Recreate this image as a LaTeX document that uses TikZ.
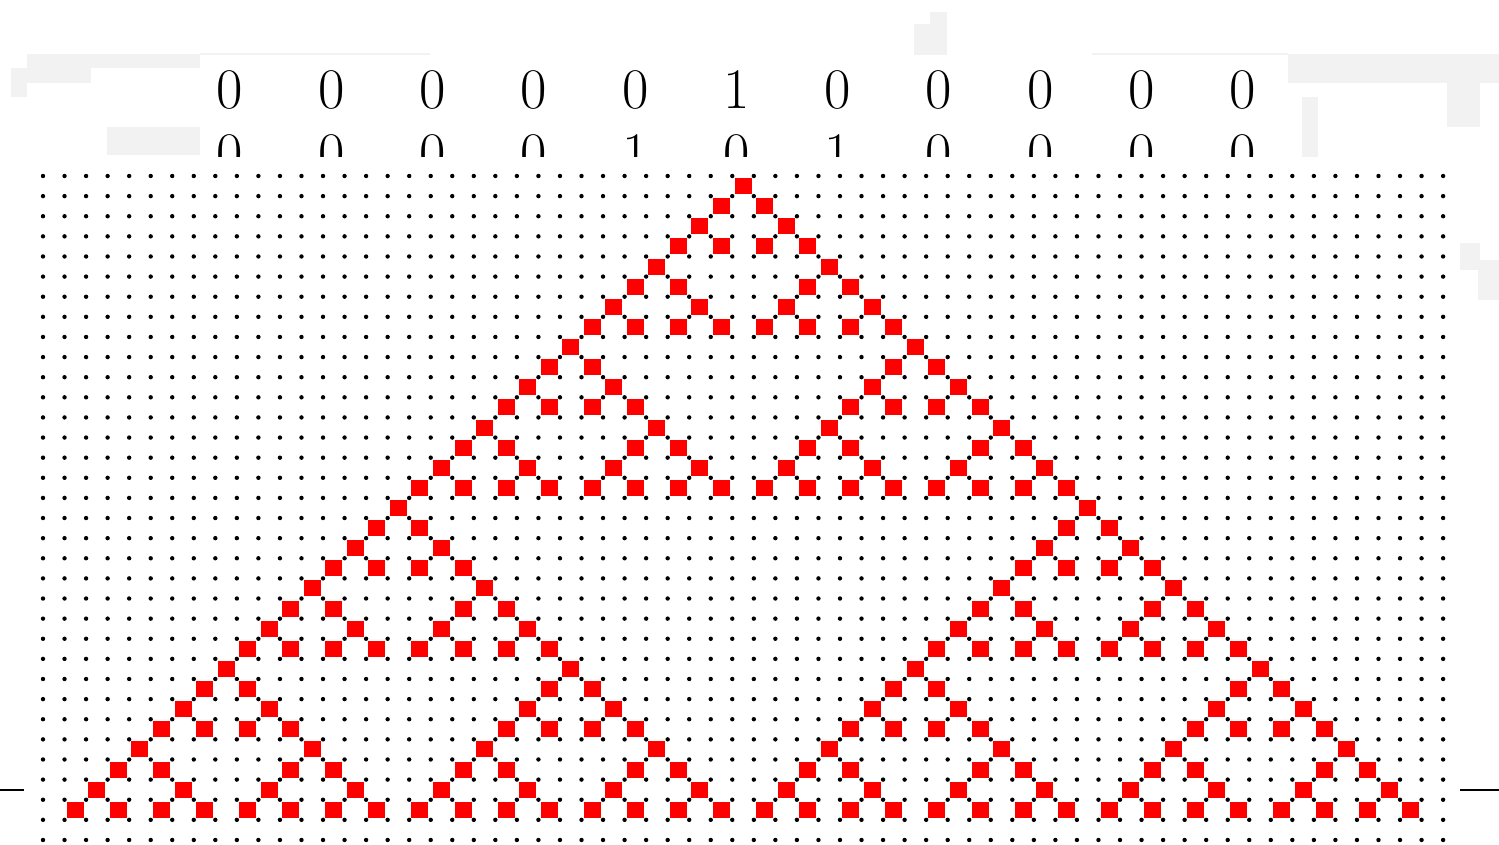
\documentclass[tikz,border=0pt]{standalone}
\usetikzlibrary{positioning}
\tikzset{
  gridpt/.style={fill=black},
  live/.style={fill=red},
  bit/.style={anchor=base,inner sep=0pt,font=\fontsize{28.7}{30}\selectfont},
  haze/.style={fill=black!5,draw=none},
  rule/.style={draw=black,line width=1pt}}

\begin{document}
\begin{tikzpicture}[x=0.5pt,y=-0.5pt]
\useasboundingbox (0,0) rectangle (1499,845);
% faint blocks round the edges
\fill[haze] (27,54) rectangle (200,68);
\fill[haze] (11,68) rectangle (91,83);
\fill[haze] (11,83) rectangle (27,97);
\fill[haze] (107,127) rectangle (200,155);
\fill[haze] (914,24) rectangle (947,55);
\fill[haze] (930,12) rectangle (947,24);
\fill[haze] (1288,54) rectangle (1499,83);
\fill[haze] (1447,83) rectangle (1480,127);
\fill[haze] (1302,97) rectangle (1318,157);
\fill[haze] (1460,243) rectangle (1480,270);
\fill[haze] (1478,260) rectangle (1499,300);
\draw[black!5,line width=0.6pt] (200,54) -- (430,54) (1092,54) -- (1288,54);
% first two rows of bits
\foreach \b [count=\i from 0] in {0,0,0,0,0,1,0,0,0,0,0}
  \node[bit] (top\i) at (230+101.3*\i,109) {\b};
\begin{scope}
\clip (0,0) rectangle (1499,157);
\foreach \b [count=\i from 0] in {0,0,0,0,1,0,1,0,0,0,0}
  \node[bit] (next\i) at (230+101.3*\i,173) {\b};
\end{scope}
% dot lattice
\foreach \k in {0,...,33}
  \foreach \i in {0,...,65}
    \fill[gridpt] (43+21.54*\i,176+20.12*\k) circle (1.1pt);
% rule 90 cells (odd binomials)
\foreach \r in {0,...,31}
  \foreach \m in {0,...,\r}{
    \pgfmathtruncatemacro\n{\r-\m}
    \pgfmathtruncatemacro\hit{mod(\m,2)*mod(\n,2)+mod(floor(\m/2),2)*mod(floor(\n/2),2)+mod(floor(\m/4),2)*mod(floor(\n/4),2)+mod(floor(\m/8),2)*mod(floor(\n/8),2)+mod(floor(\m/16),2)*mod(floor(\n/16),2)}
    \ifnum\hit=0
      \pgfmathsetmacro\cx{43+21.54*(32.5-\r+2*\m)}
      \pgfmathsetmacro\cy{176+20.12*(\r+0.5)}
      \fill[live] (\cx-8.5,\cy-8) rectangle (\cx+8.5,\cy+8);
    \fi}
% stubs at the sides
\draw[rule] (0,790) -- (24,790);
\draw[rule] (1460,790) -- (1499,790);
\end{tikzpicture}
\end{document}
